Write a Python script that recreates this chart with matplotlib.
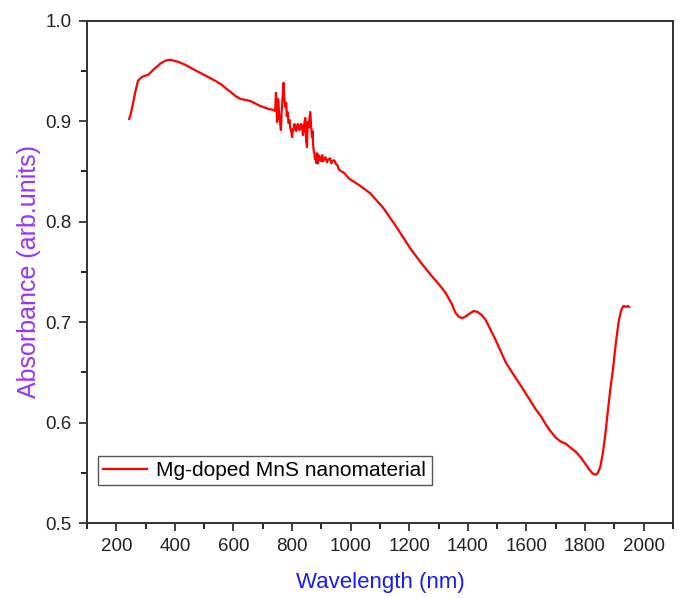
import matplotlib.pyplot as plt
from matplotlib.ticker import MultipleLocator

plt.rcParams['font.family'] = ['Liberation Sans', 'DejaVu Sans']

# values
wavelength = [244, 250, 256, 265, 274, 288, 309, 330, 350, 367, 384, 410, 435, 460,
              486, 512, 538, 560, 572, 590, 606, 623, 657, 691, 720, 737,
              742, 745, 747, 749, 752, 754, 756, 758, 760, 762,
              764, 766, 768, 771, 774, 777, 780, 782, 785, 788,
              791, 794, 797, 800, 803, 805, 808, 811, 814, 816,
              819, 822, 825, 828, 831, 834, 837, 839, 842, 845,
              848, 851, 853, 856, 859, 862, 865, 868, 870, 872,
              874, 876, 878, 880, 883, 885, 888, 890, 893, 897,
              900, 903, 906, 910, 914, 919, 922, 926, 930, 934,
              938, 942, 946, 950, 955, 959, 967, 975, 985, 993,
              1030, 1067, 1110, 1153, 1204, 1240, 1273, 1300, 1324, 1345, 1358,
              1370, 1382, 1395, 1409, 1420, 1433, 1447, 1461, 1478, 1495, 1512,
              1529, 1555, 1580, 1606, 1632, 1650, 1666, 1683, 1700, 1717, 1734,
              1750, 1768, 1786, 1803, 1815, 1827, 1837, 1844, 1852, 1861, 1870,
              1878, 1887, 1895, 1902, 1909, 1915, 1922, 1927, 1932, 1940, 1946, 1950]
absorbance = [0.902, 0.908, 0.916, 0.929, 0.940, 0.944, 0.946, 0.952, 0.957, 0.960,
              0.961, 0.959, 0.956, 0.952, 0.948, 0.944, 0.940, 0.936, 0.933, 0.929,
              0.925, 0.922, 0.920, 0.915, 0.912, 0.911,
              0.910, 0.928, 0.912, 0.899, 0.922, 0.918, 0.902, 0.905, 0.896, 0.891,
              0.908, 0.915, 0.925, 0.938, 0.921, 0.914, 0.918, 0.905, 0.909, 0.898,
              0.901, 0.893, 0.890, 0.884, 0.892, 0.891, 0.897, 0.894, 0.890, 0.892,
              0.897, 0.896, 0.891, 0.893, 0.897, 0.895, 0.886, 0.889, 0.898, 0.903,
              0.880, 0.874, 0.899, 0.893, 0.901, 0.909, 0.895, 0.884, 0.890, 0.876,
              0.870, 0.868, 0.862, 0.864, 0.858, 0.868, 0.858, 0.866, 0.861, 0.864,
              0.860, 0.866, 0.860, 0.862, 0.864, 0.859, 0.861, 0.862, 0.863, 0.858,
              0.860, 0.861, 0.860, 0.857, 0.856, 0.852, 0.850, 0.849, 0.846, 0.843,
              0.836, 0.828, 0.814, 0.796, 0.773, 0.759, 0.747, 0.738, 0.729,
              0.718, 0.709, 0.705, 0.704, 0.706, 0.709, 0.711, 0.710, 0.707, 0.702,
              0.692, 0.682, 0.671, 0.660, 0.648, 0.637, 0.625, 0.613, 0.606, 0.598,
              0.591, 0.585, 0.581, 0.579, 0.575, 0.571, 0.565, 0.558, 0.553, 0.549,
              0.548, 0.550, 0.556, 0.570, 0.590, 0.612, 0.635, 0.652, 0.671, 0.688,
              0.701, 0.710, 0.714, 0.716, 0.715, 0.716, 0.715]

fig = plt.figure(figsize=(6.77, 5.98), dpi=100)
ax = fig.add_axes([0.1285, 0.1254, 0.8655, 0.8403])

ax.plot(wavelength, absorbance, color='#ff0000', lw=1.6, label='Mg-doped MnS nanomaterial')

ax.set_xlim(100, 2100)
ax.set_ylim(0.5, 1.0)
ax.xaxis.set_major_locator(MultipleLocator(200))
ax.xaxis.set_minor_locator(MultipleLocator(100))
ax.yaxis.set_major_locator(MultipleLocator(0.1))
ax.yaxis.set_minor_locator(MultipleLocator(0.05))
ax.tick_params(which='major', direction='out', length=6, width=1.2, labelsize=13.5,
               colors='#222222', pad=5)
ax.tick_params(which='minor', direction='out', length=4, width=1.2)
ax.tick_params(top=False, right=False)
for s in ax.spines.values():
    s.set_linewidth(1.4)
    s.set_color('#333333')

ax.set_xlabel('Wavelength (nm)', color='#1a1aff', fontsize=16, labelpad=12)
ax.set_ylabel('Absorbance (arb.units)', color='#9933ff', fontsize=18, labelpad=3)

leg = ax.legend(loc='lower left', bbox_to_anchor=(0.019, 0.0755), borderaxespad=0,
                fontsize=15, fancybox=False, edgecolor='#555555', framealpha=1,
                handlelength=2.1, borderpad=0.25, handletextpad=0.45)
leg.get_frame().set_linewidth(1.0)

fig.savefig('out.png', dpi=100)
